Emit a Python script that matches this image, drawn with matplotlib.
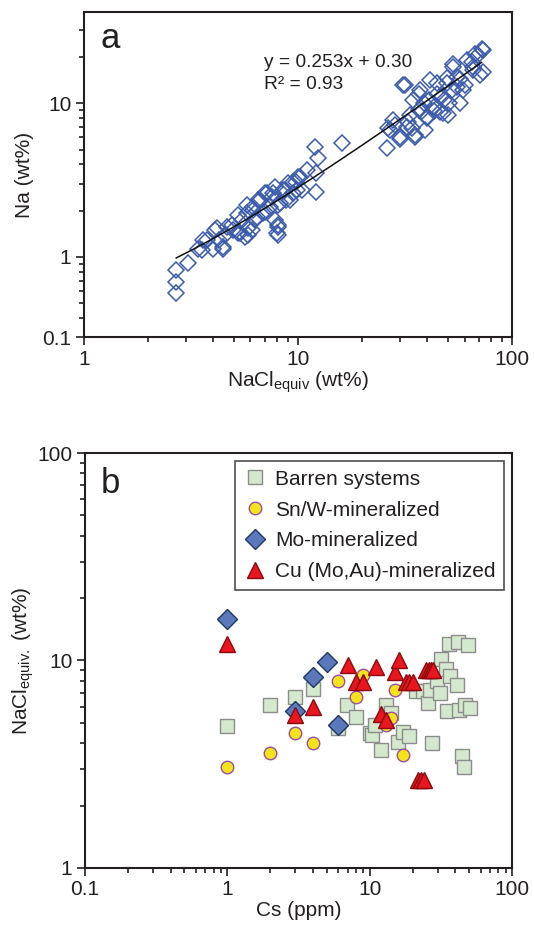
import numpy as np
import matplotlib
matplotlib.use("Agg")
import matplotlib.pyplot as plt
from matplotlib.ticker import FixedLocator, FixedFormatter, LogLocator, NullFormatter

plt.rcParams["font.family"] = ["Liberation Sans", "DejaVu Sans"]
plt.rcParams["mathtext.fontset"] = "custom"
plt.rcParams["mathtext.rm"] = "Liberation Sans"
plt.rcParams["mathtext.it"] = "Liberation Sans:italic"

TXT = "#231f20"

# (a) fluid inclusion Na vs salinity
nacl = [2.69, 2.69, 2.69, 3.07, 3.42, 3.55, 3.61, 3.74, 4.02, 4.09, 4.17, 4.28,
        4.47, 4.48, 4.56, 4.64, 4.90, 4.98, 5.27, 5.27, 5.36, 5.45, 5.65, 5.76,
        5.77, 5.85, 5.86, 6.07, 6.19, 6.19, 6.28, 6.41, 6.50, 6.64, 6.88, 7.0,
        7.0, 7.14, 7.39, 7.53, 7.67, 7.78, 7.8, 7.95, 8.07, 8.1, 8.1, 8.1, 8.25,
        8.53, 8.7, 8.83, 8.99, 9.2, 9.5, 9.5, 9.84, 9.86, 10.0, 10.2, 10.4,
        10.97, 12.0, 12.4, 12.2, 12.1, 16.0,
        26.0, 26.4, 26.8, 27.9, 28.3, 29.9, 30.0, 31.0, 31.6, 32.2, 32.8, 33.4,
        33.9, 34.6, 35.2, 35.3, 36.6, 36.6, 37.2, 37.9, 38.6, 39.0, 40.0, 40.0,
        40.7, 41.5, 43.0, 43.0, 44.6, 44.6, 46.3, 46.9, 47.8, 48.0, 49.4, 49.8,
        50.4, 50.7, 52.2, 53.0, 53.1, 55.0, 55.0, 57.0, 57.1, 59.2, 60.1, 61.3,
        64.9, 65.6, 66.0, 67.0, 69.5, 70.7, 72.0, 72.9, 72.9]
na = [0.82, 0.687, 0.58, 0.905, 1.13, 1.10, 1.28, 1.28, 1.12, 1.49, 1.53, 1.28,
      1.16, 1.13, 1.39, 1.57, 1.61, 1.49, 1.42, 1.87, 1.42, 1.73, 1.35, 1.92,
      2.17, 1.38, 1.53, 1.49, 2.12, 2.01, 1.74, 1.82, 2.34, 2.34, 1.92, 2.59,
      1.97, 2.59, 2.12, 2.46, 2.59, 1.73, 2.86, 1.42, 1.57, 2.17, 1.61, 1.39,
      2.23, 2.72, 2.72, 2.34, 3.01, 2.34, 2.59, 3.08, 3.08, 2.72, 3.33, 3.33,
      2.72, 3.68, 5.2, 4.38, 3.5, 2.65, 5.54,
      5.1, 6.87, 6.7, 7.8, 7.2, 6.06, 5.9, 13.2, 13.2, 7.04, 7.6, 8.4,
      6.87, 10.5, 6.06, 6.2, 9.05, 11.6, 12.2, 8.9, 10.0, 6.7, 8.2, 8.0,
      10.5, 14.2, 9.5, 8.9, 11.6, 13.5, 8.8, 11.1, 8.7, 10.5, 14.6, 13.5,
      8.4, 10.0, 12.2, 17.4, 18.2, 12.8, 14.9, 14.5, 10.0, 12.2, 13.2, 19.1,
      18.6, 17.4, 16.5, 21.0, 20.7, 15.3, 22.7, 22.3, 16.1]
fit_slope = 0.253
fit_icpt = 0.30
fit_r2 = 0.93

# (b) salinity vs Cs by deposit type
barren_cs = [1, 2, 3, 4, 6, 6.88, 8.0, 10.0, 10.3, 10.9, 12, 13, 14, 15.8, 17,
             19, 21.3, 23.7, 25.7, 26.4, 27.2, 29.9, 31, 31.9, 34.2, 35.1, 36.1,
             36.9, 40.8, 41.8, 42.5, 44.8, 45.9, 46.5, 49.1, 50.4]
barren_nacl = [4.86, 6.1, 6.7, 7.28, 4.72, 6.1, 5.37, 4.47, 4.38, 4.9, 3.7, 6.1,
               5.6, 4.03, 4.54, 4.33, 7.1, 7.1, 6.23, 7.2, 4.0, 8.0, 6.96, 10.15,
               9.1, 5.74, 12.0, 8.4, 7.6, 12.3, 5.8, 3.48, 3.06, 6.1, 11.9, 5.9]
snw_cs = [1, 2, 3, 4, 6, 8, 9, 13, 14, 15, 17]
snw_nacl = [3.08, 3.58, 4.47, 4.02, 8.0, 6.7, 8.53, 4.9, 5.27, 7.2, 3.5]
mo_cs = [1, 3, 4, 5, 6]
mo_nacl = [15.9, 5.74, 8.3, 9.8, 4.9]
cu_cs = [1, 3, 4, 7, 8, 9, 11, 12, 13, 15, 16, 18, 19, 20, 22, 23, 24,
         25, 26, 27, 28]
cu_nacl = [12.0, 5.47, 6.0, 9.5, 7.9, 7.9, 9.3, 5.52, 5.18, 8.85, 10.1, 7.9,
           7.9, 7.9, 2.66, 2.66, 2.66, 9.0, 9.0, 9.0, 9.0]

fig = plt.figure(figsize=(5.34, 9.31), dpi=100)
ax1 = fig.add_axes([0.157, 0.638, 0.802, 0.349])
ax2 = fig.add_axes([0.159, 0.0677, 0.80, 0.4457])


def log_ticks(axis, majors, labels):
    axis.set_major_locator(FixedLocator(majors))
    axis.set_major_formatter(FixedFormatter(labels))
    axis.set_minor_locator(LogLocator(base=10, subs=np.arange(2, 10) * 0.1, numticks=20))
    axis.set_minor_formatter(NullFormatter())


def style_axes(ax):
    for s in ax.spines.values():
        s.set_linewidth(1.5)
        s.set_color(TXT)
    ax.tick_params(which="both", direction="out", top=False, right=False,
                   colors=TXT, labelsize=15, width=1.2)
    ax.tick_params(which="major", length=6, pad=3)
    ax.tick_params(which="minor", length=3.5)


# panel a
ax1.set_xscale("log")
ax1.set_yscale("log")
ax1.plot(nacl, na, "D", ms=8.5, mfc="none", mec="#3b5bab", mew=1.1,
         linestyle="none", zorder=2)
xs = np.logspace(np.log10(2.7), np.log10(72), 200)
ax1.plot(xs, fit_slope * xs + fit_icpt, color="#111111", lw=1.1, zorder=3)
ax1.set_xlim(1, 100)
ax1.set_ylim(0.3, 39.4)
log_ticks(ax1.yaxis, [0.3, 1, 10], ["0.1", "1", "10"])
log_ticks(ax1.xaxis, [1, 10, 100], ["1", "10", "100"])
style_axes(ax1)
ax1.set_xlabel("NaCl$_{\\mathrm{equiv}}$ (wt%)", fontsize=15, color=TXT, labelpad=1)
ax1.set_ylabel("Na (wt%)", fontsize=15, color=TXT)
ax1.yaxis.set_label_coords(-0.117, 0.5)
ax1.text(0.42, 0.846, "y = {:.3f}x + {:.2f}".format(fit_slope, fit_icpt),
         transform=ax1.transAxes, fontsize=13.8, color=TXT, va="center")
ax1.text(0.42, 0.778, "R² = {:.2f}".format(fit_r2),
         transform=ax1.transAxes, fontsize=13.8, color=TXT, va="center")
ax1.text(0.04, 0.92, "a", transform=ax1.transAxes, fontsize=25, color=TXT,
         va="center")

# panel b
ax2.set_xscale("log")
ax2.set_yscale("log")
ax2.plot(barren_cs, barren_nacl, "s", ms=9.5, mfc="#d3e8cc", mec="#8c8c8c",
         mew=1.0, linestyle="none", label="Barren systems", zorder=2)
ax2.plot(snw_cs, snw_nacl, "o", ms=9, mfc="#f5e31a", mec="#9b4fa0",
         mew=1.0, linestyle="none", label="Sn/W-mineralized", zorder=3)
ax2.plot(mo_cs, mo_nacl, "D", ms=10, mfc="#5a78ba", mec="#1d3766",
         mew=1.0, linestyle="none", label="Mo-mineralized", zorder=4)
ax2.plot(cu_cs, cu_nacl, "^", ms=11.5, mfc="#e8161e", mec="#8a0a0e",
         mew=1.0, linestyle="none", label="Cu (Mo,Au)-mineralized", zorder=5)
ax2.set_xlim(0.1, 100)
ax2.set_ylim(1, 100)
log_ticks(ax2.xaxis, [0.1, 1, 10, 100], ["0.1", "1", "10", "100"])
log_ticks(ax2.yaxis, [1, 10, 100], ["1", "10", "100"])
style_axes(ax2)
ax2.set_xlabel("Cs (ppm)", fontsize=15, color=TXT, labelpad=1)
ax2.set_ylabel("NaCl$_{\\mathrm{equiv.}}$ (wt%)", fontsize=15, color=TXT)
ax2.yaxis.set_label_coords(-0.115, 0.5)
ax2.text(0.037, 0.904, "b", transform=ax2.transAxes, fontsize=25, color=TXT,
         va="baseline")
leg = ax2.legend(loc="upper right", fontsize=15, frameon=True, fancybox=False,
                 borderaxespad=0.4, handletextpad=0.4, labelspacing=0.57,
                 handlelength=1.1, borderpad=0.4)
leg.get_frame().set_edgecolor(TXT)
leg.get_frame().set_linewidth(1.2)
for t in leg.get_texts():
    t.set_color(TXT)

fig.savefig("out.png", dpi=100)
